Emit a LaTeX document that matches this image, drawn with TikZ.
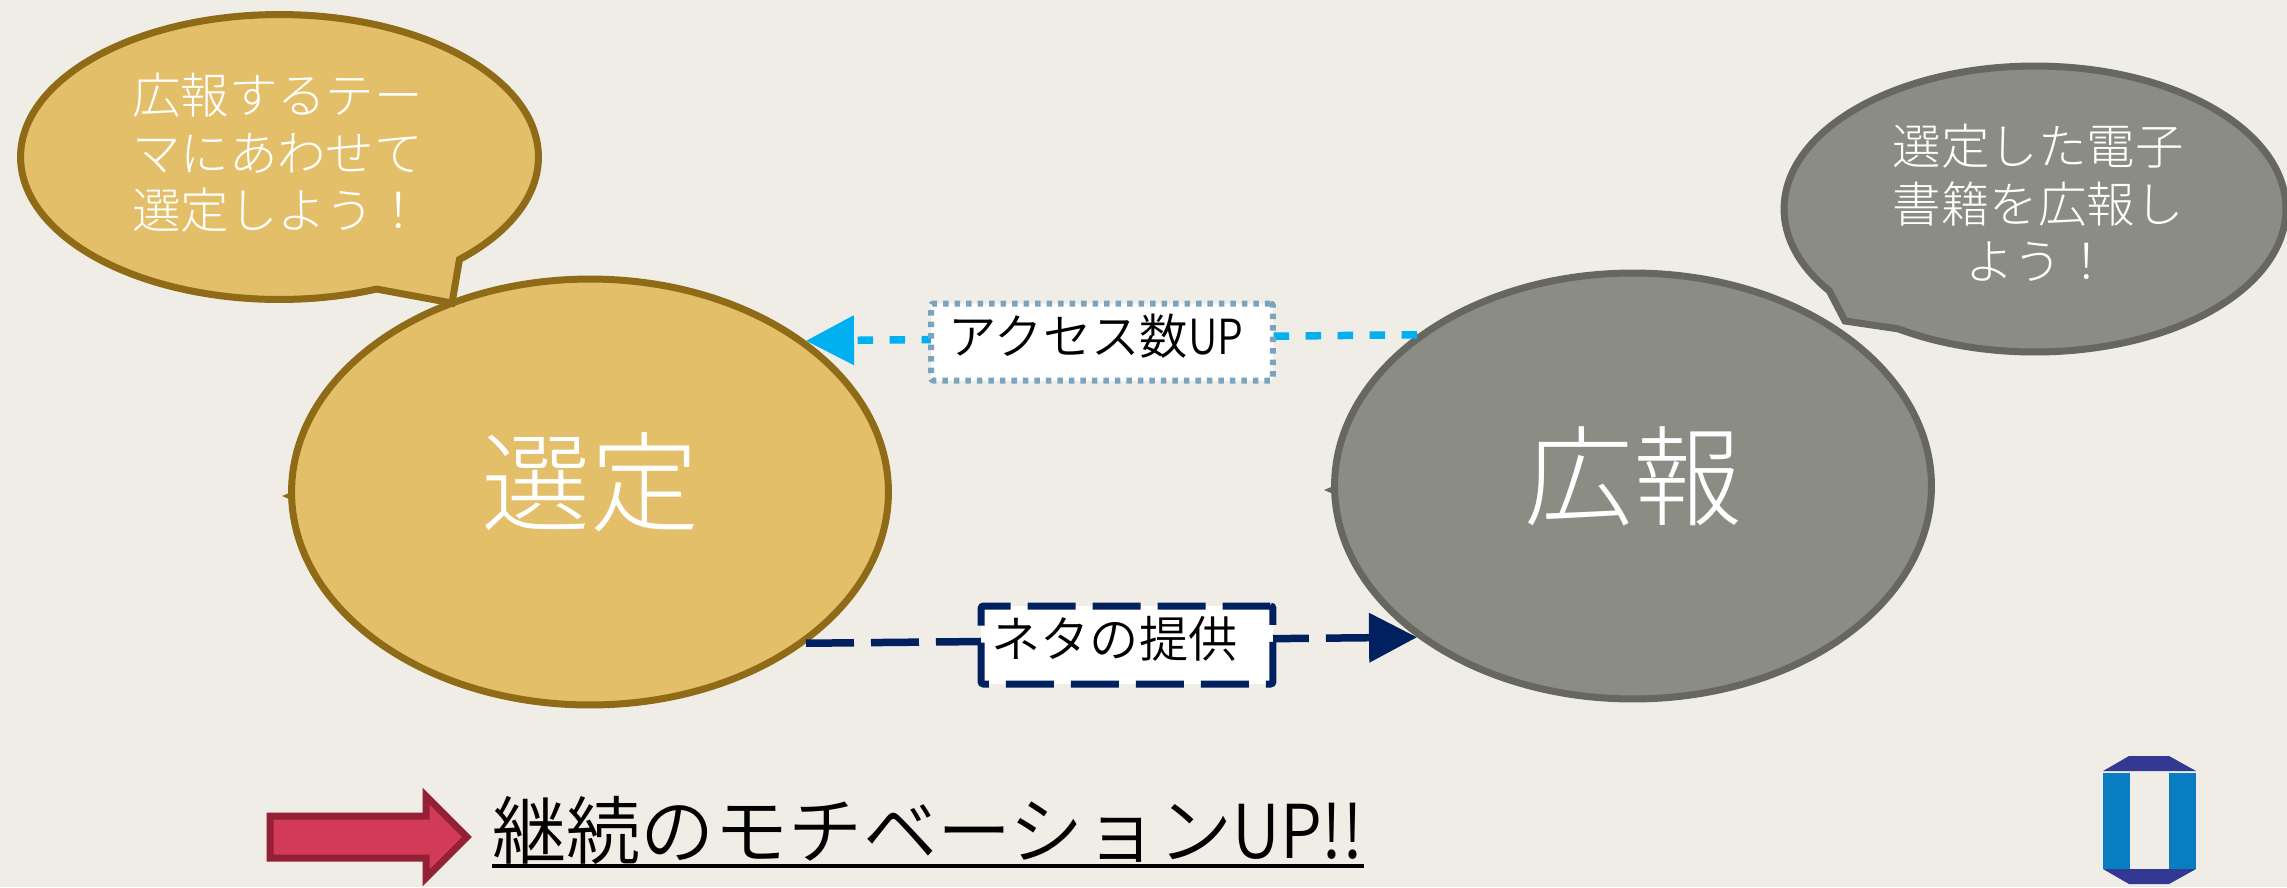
\documentclass[tikz,border=0pt]{standalone}
\usepackage{graphicx}
\usepackage{fontspec}
\setmainfont{Noto Sans CJK JP}[UprightFont=* Light]
\newfontfamily\demi{Noto Sans CJK JP}[UprightFont=* DemiLight]
\usetikzlibrary{positioning, arrows.meta, shapes.geometric, shapes.callouts}
\definecolor{fond}{RGB}{239,237,229}
\definecolor{or}{RGB}{228,191,106}
\definecolor{orfonce}{RGB}{143,107,23}
\definecolor{gris}{RGB}{139,140,132}
\definecolor{grisfonce}{RGB}{102,103,96}
\definecolor{ciel}{RGB}{0,176,240}
\definecolor{marine}{RGB}{0,32,96}
\definecolor{acier}{RGB}{122,164,192}
\definecolor{rouge}{RGB}{211,58,87}
\definecolor{rougefonce}{RGB}{147,32,53}
\definecolor{logobleu}{RGB}{8,125,193}
\definecolor{logoindigo}{RGB}{51,56,147}

\begin{document}
\begin{tikzpicture}[x = 0.02cm, y = -0.02cm]
	\tikzstyle{rond}=[ellipse, line width=1.4mm, minimum width=11.94cm, minimum height=8.52cm,
		text=white, font=\fontsize{62}{70}\selectfont, inner sep=0pt, text height=1.65cm, text depth=0.4cm]
	\tikzstyle{bulle}=[ellipse callout, line width=1.4mm, inner sep=0pt, callout pointer arc=22]
	\tikzstyle{bulletexte}=[text=white, align=center, inner sep=0pt, font=\fontsize{27.6}{32.8}\selectfont]
	\tikzstyle{etiquette}=[draw, fill=white, text=black, rounded corners=0.5mm,
		inner sep=0pt, text height=0.8cm, text depth=0.32cm]
	\tikzstyle{fleche}=[line width=1.5mm, -{Triangle[length=0.96cm, width=0.96cm]}]
	\useasboundingbox (0,0) rectangle (2287,887);
	\fill[fond] (0,0) rectangle (2287,887);
	% the two circles
	\node[rond, draw=orfonce, fill=or] (selection) at (590,492) {選定};
	\node[rond, draw=grisfonce, fill=gris] (promotion) at (1633,486) {広報};
	\fill[orfonce] (282,496) -- (294,491) -- (294,501) -- cycle;
	\fill[grisfonce] (1324,490) -- (1336,485) -- (1336,495) -- cycle;
	% speech bubbles
	\node[bulle, draw=orfonce, fill=or, minimum width=10.36cm, minimum height=5.7cm,
		callout absolute pointer={(452,303)}] (bullegauche) at (279.5,157) {};
	\node[bulle, draw=grisfonce, fill=gris, minimum width=10.04cm, minimum height=5.72cm,
		callout absolute pointer={(1845,321)}] (bulledroite) at (2035,209) {};
	\node[bulletexte] (textegauche) at (277.5,153) {広報するテー\\マにあわせて\\選定しよう！};
	\node[bulletexte] (textedroite) at (2038,203) {選定した電子\\書籍を広報し\\よう！};
	% arrows and their labels
	\draw[fleche, color=ciel, dash pattern=on 0.31cm off 0.33cm] (promotion.145) -- (selection.35);
	\draw[fleche, color=marine, dash pattern=on 0.96cm off 0.34cm] (selection.-35) -- (promotion.215);
	\node[etiquette, draw=acier, line width=1.2mm, dash pattern=on 0.11cm off 0.12cm,
		minimum width=6.84cm, minimum height=1.54cm, font=\demi\fontsize{27.5}{33}\selectfont]
		(acces) at (1102,342) {アクセス数\scalebox{0.85}[1]{UP}\kern0.24cm};
	\node[etiquette, draw=marine, line width=1.4mm, dash pattern=on 0.96cm off 0.34cm,
		minimum width=5.84cm, minimum height=1.56cm, font=\demi\fontsize{28}{33}\selectfont]
		(sujet) at (1127,645) {ネタの提供\kern0.5cm};
	% bottom line
	\draw[line width=1.4mm, color=rougefonce, fill=rouge, miter limit=10] (270,816) -- (426,816) -- (426,796)
		-- (467,837) -- (426,878) -- (426,858) -- (270,858) -- cycle;
	\node[anchor=west, inner sep=0pt, text=black, font=\demi\fontsize{42.2}{50}\selectfont] (motivation) at (492,830)
		{継続のモチベーション\scalebox{0.9}[1]{UP!!}};
	\coordinate (trait) at (0,866);
	\draw[line width=0.8mm, color=black] (motivation.west |- trait) -- (motivation.east |- trait);
	% logo
	\fill[logoindigo] (2103,771) -- (2129,756) -- (2169,756) -- (2196,771) -- cycle;
	\fill[logobleu] (2103,773) rectangle (2129.5,869);
	\fill[logobleu] (2169,773) rectangle (2196,869);
	\fill[logoindigo] (2103,869) -- (2196,869) -- (2169,884) -- (2129,884) -- cycle;
\end{tikzpicture}
\end{document}
